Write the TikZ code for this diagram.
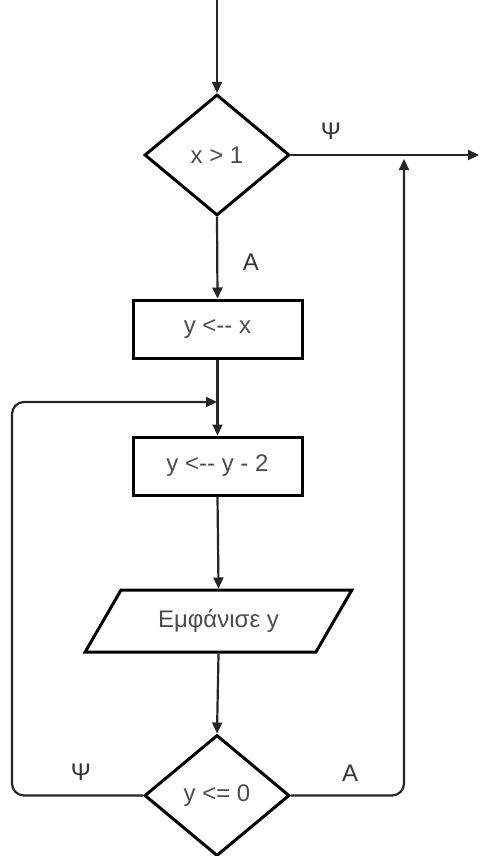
\documentclass[tikz,border=0pt]{standalone}
\usepackage{fontspec}
\setmainfont{Liberation Sans}[Ligatures=TeXOff]
\usetikzlibrary{shapes.geometric,arrows.meta}
\begin{document}
\begin{tikzpicture}[x=1pt,y=-1pt,
  shapeline/.style={draw=black,line width=3pt,fill=white,text=black!70,font=\fontsize{24}{27}\selectfont,inner sep=0pt},
  decision/.style={shapeline,diamond,minimum width=145pt,minimum height=121pt},
  process/.style={shapeline,rectangle,minimum width=169pt,minimum height=58pt},
  io/.style={shapeline,trapezium,trapezium left angle=46,trapezium right angle=134,trapezium stretches=true,minimum width=267pt,minimum height=62pt},
  conn/.style={draw=black!85,line width=2.2pt,-{Triangle[length=11pt,width=10pt]}},
  lbl/.style={text=black!80,font=\fontsize{24}{27}\selectfont}]
\useasboundingbox (0,0) rectangle (481,856);
\node[decision] (d1) at (217,155) {x > 1};
\node[process] (b1) at (217.5,329) {y <-{}- x};
\node[process] (b2) at (217.5,466) {y <-{}- y - 2};
\node[io] (p1) at (218.5,621) {Εμφάνισε y};
\node[decision] (d2) at (217,795.5) {y <= 0};
\coordinate (top) at (217,0);
\coordinate (out) at (479,155);
\coordinate (join) at (217,402);
\coordinate (ret) at (404,159);
\coordinate (bl) at (12,795.5);
\coordinate (tl) at (12,402);
\coordinate (br) at (404,795.5);
\draw[conn] (top) -- (d1.north);
\draw[conn] (d1.east) -- (out);
\draw[conn] (d1.south) -- (b1.north);
\draw[conn] (b1.south) -- (b2.north);
\draw[conn] (b2.south) -- (p1.north);
\draw[conn] (p1.south) -- (d2.north);
\draw[conn,rounded corners=12pt] (d2.west) -- (bl) -- (tl) -- (join);
\draw[conn,rounded corners=12pt] (d2.east) -- (br) -- (ret);
\node[lbl] (lpsi1) at (331,131) {Ψ};
\node[lbl] (la1) at (251,262) {Α};
\node[lbl] (lpsi2) at (81,772) {Ψ};
\node[lbl] (la2) at (350,773) {Α};
\end{tikzpicture}
\end{document}
